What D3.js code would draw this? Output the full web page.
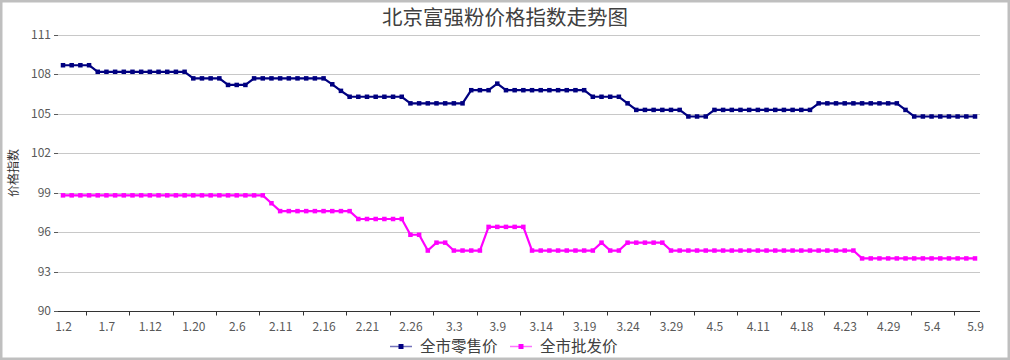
<!DOCTYPE html>
<html><head><meta charset="utf-8">
<script src="https://cdn.jsdelivr.net/npm/d3@7"></script>
<style>
html,body{margin:0;padding:0;background:#fff;}
svg text{font-family:"Noto Sans CJK SC","Noto Sans",sans-serif;}
</style></head>
<body><svg id="c" width="1010" height="360"></svg>
<script>
const title = "北京富强粉价格指数走势图";
const yTitle = "价格指数";
const seriesNames = ["全市零售价", "全市批发价"];
const seriesColors = ["#000080", "#ff00ff"];

const dates = [
 "1.2","1.3","1.4","1.5","1.6",
 "1.7","1.8","1.9","1.10","1.11",
 "1.12","1.14","1.15","1.16","1.19",
 "1.20","1.21","1.22","1.23","1.24",
 "2.6","2.7","2.8","2.9","2.10",
 "2.11","2.12","2.13","2.14","2.15",
 "2.16","2.17","2.18","2.19","2.20",
 "2.21","2.22","2.23","2.24","2.25",
 "2.26","2.27","2.28","3.1","3.2",
 "3.3","3.4","3.5","3.6","3.8",
 "3.9","3.10","3.11","3.12","3.13",
 "3.14","3.15","3.16","3.17","3.18",
 "3.19","3.20","3.21","3.22","3.23",
 "3.24","3.25","3.26","3.27","3.28",
 "3.29","3.30","3.31","4.1","4.2",
 "4.5","4.6","4.7","4.8","4.10",
 "4.11","4.12","4.13","4.15","4.16",
 "4.18","4.19","4.20","4.21","4.22",
 "4.23","4.24","4.25","4.26","4.28",
 "4.29","4.30","5.1","5.2","5.3",
 "5.4","5.5","5.6","5.7","5.8",
 "5.9"
];

const tickLabels = ["1.2","1.7","1.12","1.20","2.6","2.11","2.16","2.21","2.26","3.3","3.9",
  "3.14","3.19","3.24","3.29","4.5","4.11","4.18","4.23","4.29","5.4","5.9"];

const retail = [
 108.7,108.7,108.7,108.7,108.2,
 108.2,108.2,108.2,108.2,108.2,
 108.2,108.2,108.2,108.2,108.2,
 107.7,107.7,107.7,107.7,107.2,
 107.2,107.2,107.7,107.7,107.7,
 107.7,107.7,107.7,107.7,107.7,
 107.7,107.25,106.75,106.3,106.3,
 106.3,106.3,106.3,106.3,106.3,
 105.8,105.8,105.8,105.8,105.8,
 105.8,105.8,106.8,106.8,106.8,
 107.3,106.8,106.8,106.8,106.8,
 106.8,106.8,106.8,106.8,106.8,
 106.8,106.3,106.3,106.3,106.3,
 105.8,105.3,105.3,105.3,105.3,
 105.3,105.3,104.8,104.8,104.8,
 105.3,105.3,105.3,105.3,105.3,
 105.3,105.3,105.3,105.3,105.3,
 105.3,105.3,105.8,105.8,105.8,
 105.8,105.8,105.8,105.8,105.8,
 105.8,105.8,105.3,104.8,104.8,
 104.8,104.8,104.8,104.8,104.8,
 104.8
];

const wholesale = [
 98.8,98.8,98.8,98.8,98.8,
 98.8,98.8,98.8,98.8,98.8,
 98.8,98.8,98.8,98.8,98.8,
 98.8,98.8,98.8,98.8,98.8,
 98.8,98.8,98.8,98.8,98.2,
 97.6,97.6,97.6,97.6,97.6,
 97.6,97.6,97.6,97.6,97.0,
 97.0,97.0,97.0,97.0,97.0,
 95.8,95.8,94.6,95.2,95.2,
 94.6,94.6,94.6,94.6,96.4,
 96.4,96.4,96.4,96.4,94.6,
 94.6,94.6,94.6,94.6,94.6,
 94.6,94.6,95.2,94.6,94.6,
 95.2,95.2,95.2,95.2,95.2,
 94.6,94.6,94.6,94.6,94.6,
 94.6,94.6,94.6,94.6,94.6,
 94.6,94.6,94.6,94.6,94.6,
 94.6,94.6,94.6,94.6,94.6,
 94.6,94.6,94.0,94.0,94.0,
 94.0,94.0,94.0,94.0,94.0,
 94.0,94.0,94.0,94.0,94.0,
 94.0
];

const yTicks = [90, 93, 96, 99, 102, 105, 108, 111];

const W = 1010, H = 360;
const svg = d3.select("#c");
const plotL = 58, plotR = 980, plotT = 35, plotB = 311;

// border
svg.append("rect").attr("x",1.25).attr("y",1.25).attr("width",W-2.5).attr("height",H-2.5)
  .attr("fill","#fff").attr("stroke","#bfbfbf").attr("stroke-width",2.5);

const x = d3.scalePoint().domain(dates).range([63, 975]);
const y = d3.scaleLinear().domain([90, 111]).range([plotB, plotT]);

// gridlines
const gy = svg.append("g").attr("transform",`translate(${plotL},0)`)
  .call(d3.axisLeft(y).tickValues(yTicks).tickSize(-(plotR-plotL)).tickPadding(7).tickFormat(d3.format("d")));
gy.select(".domain").remove();
gy.selectAll(".tick line").attr("stroke","#c8c8c8").attr("stroke-width",1);
gy.selectAll(".tick text").attr("fill","#595959").style("font-size","12px");
// small tick marks on the left
svg.append("g").selectAll("line").data(yTicks).join("line")
  .attr("x1",plotL-4).attr("x2",plotL).attr("y1",d=>Math.round(y(d))+0.5).attr("y2",d=>Math.round(y(d))+0.5)
  .attr("stroke","#595959");
gy.selectAll(".tick").attr("transform", d=>`translate(0,${Math.round(y(d))+0.5})`);

// x axis
const xa = svg.append("g").attr("transform",`translate(0,${plotB+0.5})`);
xa.append("line").attr("x1",plotL).attr("x2",plotR).attr("stroke","#333").attr("stroke-width",1);
const step = x.step();
const tickPos = tickLabels.slice(0,-1).map(d => x(d) + 2.5*step + 1);
xa.selectAll("line.tk").data(tickPos).join("line").attr("class","tk")
  .attr("x1",d=>Math.round(d)+0.5).attr("x2",d=>Math.round(d)+0.5).attr("y1",0).attr("y2",4)
  .attr("stroke","#333");
xa.call(d3.axisBottom(x).tickValues(tickLabels).tickSize(0).tickPadding(11))
  .call(g=>g.select(".domain").remove());
xa.selectAll(".tick text").attr("fill","#595959").style("font-size","12px");

// series
const series = [retail, wholesale];
series.forEach((vals,i)=>{
  const line = d3.line().x((d,j)=>x(dates[j])).y(d=>y(d));
  svg.append("path").datum(vals).attr("d",line).attr("fill","none")
    .attr("stroke",seriesColors[i]).attr("stroke-width",2.2).attr("stroke-linejoin","round");
  svg.append("g").selectAll("rect").data(vals).join("rect")
    .attr("x",(d,j)=>x(dates[j])-2.25).attr("y",d=>y(d)-2.25)
    .attr("width",4.5).attr("height",4.5).attr("fill",seriesColors[i]);
});

// title
svg.append("text").attr("x",505).attr("y",25).attr("text-anchor","middle")
  .attr("fill","#404040").style("font-size","20.5px").text(title);

// y axis title
svg.append("text").attr("transform","translate(18,173) rotate(-90)").attr("text-anchor","middle")
  .attr("fill","#333").style("font-size","12px").text(yTitle);

// legend
const legX = [390, 510];
seriesNames.forEach((n,i)=>{
  const g = svg.append("g").attr("transform",`translate(${legX[i]},346)`);
  g.append("line").attr("x1",0).attr("x2",22).attr("y1",0.5).attr("y2",0.5)
    .attr("stroke",seriesColors[i]).attr("stroke-width",1.5).attr("stroke-opacity",0.55);
  g.append("rect").attr("x",8.5).attr("y",-2).attr("width",5).attr("height",5).attr("fill",seriesColors[i]);
  g.append("text").attr("x",30).attr("y",0).attr("dy","0.36em").attr("fill","#404040")
    .style("font-size","15.5px").text(n);
});
</script></body></html>
